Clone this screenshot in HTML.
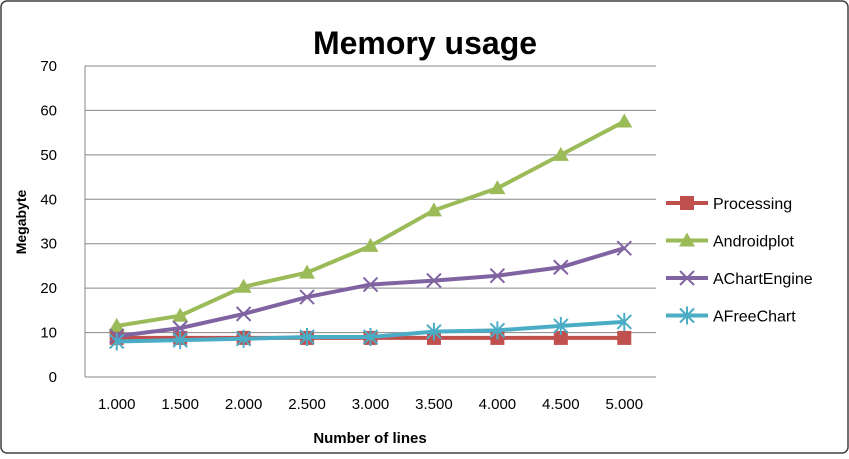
<!DOCTYPE html>
<html><head><meta charset="utf-8"><style>
body{margin:0;background:#fff;font-family:"Liberation Sans",sans-serif}
</style></head><body>
<svg id="c" width="849" height="454" xmlns="http://www.w3.org/2000/svg">
<rect x="1" y="1" width="847" height="452" rx="6" fill="#fff" stroke="#404040" stroke-width="1.5"/>
<text x="425" y="54" text-anchor="middle" font-size="32" font-weight="bold" fill="#000">Memory usage</text>
<g id="grid"></g><g id="series"></g>
<text transform="translate(26,222) rotate(-90)" text-anchor="middle" font-size="14" font-weight="bold">Megabyte</text>
<text x="370" y="443" text-anchor="middle" font-size="15" font-weight="bold">Number of lines</text>
<g id="legend"></g>
</svg>
<script>
const categories=["1.000","1.500","2.000","2.500","3.000","3.500","4.000","4.500","5.000"];
const yTicks=[0,10,20,30,40,50,60,70];
const processing=[8.8,8.8,8.8,8.8,8.8,8.8,8.8,8.8,8.8];
const androidplot=[11.5,13.8,20.3,23.5,29.5,37.5,42.5,50,57.5];
const achartengine=[9.2,11,14.2,18,20.8,21.7,22.8,24.7,29];
const afreechart=[8,8.3,8.6,9,9,10.2,10.5,11.5,12.4];
const seriesNames=["Processing","Androidplot","AChartEngine","AFreeChart"];
const NS="http://www.w3.org/2000/svg";
const L=85,R=656,T=66,B=377;
const step=(R-L)/categories.length;
const x=i=>L+step*(i+0.5);
const y=v=>B-(v/70)*(B-T);
function mk(t,a,p){const e=document.createElementNS(NS,t);for(const k in a)e.setAttribute(k,a[k]);p.appendChild(e);return e;}
const g=document.getElementById('grid');
yTicks.forEach(v=>{
 const l=mk('line',{x1:L,x2:R,y1:y(v),y2:y(v),stroke:'#868686','stroke-width':1},g);
 
 
 const t=mk('text',{x:L-28,y:y(v)+5,'text-anchor':'end','font-size':15},g);t.textContent=v;
 
 
});
const ax=mk('line',{x1:L,x2:L,y1:T,y2:B,stroke:'#868686'},g);


categories.forEach((c,i)=>{
 const t=mk('text',{x:x(i),y:B+32,'text-anchor':'middle','font-size':15},g);t.textContent=c;
 
 
});
const colors=['#c0504d','#9bbb59','#8064a2','#4bacc6'];
const data=[processing,androidplot,achartengine,afreechart];
function marker(k,cx,cy,p){
 const c=colors[k];let e;
 if(k==0)e=mk('rect',{x:cx-7,y:cy-7,width:14,height:14,fill:c},p);
 else if(k==1)e=mk('path',{d:`M${cx},${cy-8}L${cx+8},${cy+6}L${cx-8},${cy+6}Z`,fill:c},p);
 else if(k==2)e=mk('path',{d:`M${cx-7},${cy-7}L${cx+7},${cy+7}M${cx+7},${cy-7}L${cx-7},${cy+7}`,stroke:c,'stroke-width':2},p);
 else e=mk('path',{d:`M${cx-7},${cy-7}L${cx+7},${cy+7}M${cx+7},${cy-7}L${cx-7},${cy+7}M${cx},${cy-9}L${cx},${cy+9}`,stroke:c,'stroke-width':2},p);
 return e;
}
const s=document.getElementById('series');
data.forEach((arr,k)=>{
 const pl=mk('polyline',{points:arr.map((v,i)=>x(i)+','+y(v)).join(' '),fill:'none',stroke:colors[k],'stroke-width':4},s);
 
 
 arr.forEach((v,i)=>{const m=marker(k,x(i),y(v),s);
  
  });
});
const lg=document.getElementById('legend');
seriesNames.forEach((n,k)=>{
 const cy=203+k*37.5;
 const ln=mk('line',{x1:666,x2:708,y1:cy,y2:cy,stroke:colors[k],'stroke-width':4},lg);
 
 
 const m=marker(k,687,cy,lg);
 
 
 const t=mk('text',{x:713,y:cy+6,'font-size':16},lg);t.textContent=n;
 
 
});
</script>
</body></html>
